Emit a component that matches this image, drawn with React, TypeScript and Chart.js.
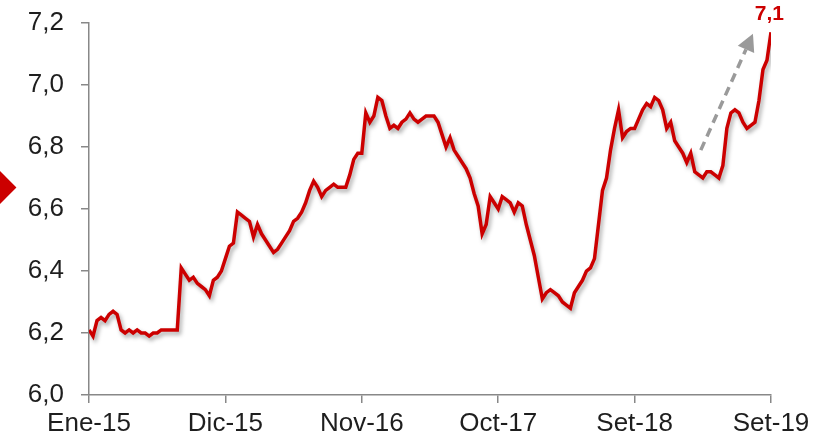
import React, { useEffect, useRef } from "react";
import { Chart, registerables } from "chart.js";

Chart.register(...registerables);

// Tick labels along the x axis (evenly spaced over the period)
const xTickLabels: string[] = ["Ene-15", "Dic-15", "Nov-16", "Oct-17", "Set-18", "Set-19"];

// Weekly exchange-rate series, Jan-2015 .. Sep-2019
const rateValues: number[] = [
  6.21, 6.19, 6.24, 6.25, 6.24, 6.26, 6.27, 6.26, 6.21, 6.20,
  6.21, 6.20, 6.21, 6.20, 6.20, 6.19, 6.20, 6.20, 6.21, 6.21,
  6.21, 6.21, 6.21, 6.41, 6.39, 6.37, 6.38, 6.36, 6.35, 6.34,
  6.32, 6.37, 6.38, 6.40, 6.44, 6.48, 6.49, 6.59, 6.58, 6.57,
  6.56, 6.51, 6.55, 6.52, 6.50, 6.48, 6.46, 6.47, 6.49, 6.51,
  6.53, 6.56, 6.57, 6.59, 6.62, 6.66, 6.69, 6.67, 6.64, 6.66,
  6.67, 6.68, 6.67, 6.67, 6.67, 6.71, 6.76, 6.78, 6.78, 6.91,
  6.88, 6.90, 6.96, 6.95, 6.90, 6.86, 6.87, 6.86, 6.88, 6.89,
  6.91, 6.89, 6.88, 6.89, 6.90, 6.90, 6.90, 6.88, 6.84, 6.80,
  6.83, 6.79, 6.77, 6.75, 6.73, 6.70, 6.65, 6.61, 6.52, 6.55,
  6.64, 6.62, 6.60, 6.64, 6.63, 6.62, 6.59, 6.62, 6.61, 6.55,
  6.50, 6.45, 6.38, 6.31, 6.33, 6.34, 6.33, 6.32, 6.30, 6.29,
  6.28, 6.33, 6.35, 6.37, 6.40, 6.41, 6.44, 6.55, 6.66, 6.70,
  6.79, 6.86, 6.92, 6.83, 6.85, 6.86, 6.86, 6.89, 6.92, 6.94,
  6.93, 6.96, 6.95, 6.92, 6.86, 6.88, 6.82, 6.80, 6.78, 6.75,
  6.78, 6.72, 6.71, 6.70, 6.72, 6.72, 6.71, 6.70, 6.74, 6.86,
  6.91, 6.92, 6.91, 6.88, 6.86, 6.87, 6.88, 6.95, 7.05, 7.08,
  7.17,
];

// Annotation: last value label and trend arrow (data coordinates)
const lastLabel = "7,1";
const lastLabelPos = { x: 169.6, y: 7.228 };
const arrowFrom = { x: 152.5, y: 6.79 };
const arrowTo = { x: 165.5, y: 7.165 };

const Y_MIN = 6.0;
const Y_MAX = 7.2;
const Y_STEP = 0.2;

const LINE_COLOR = "#cc0000";
const AXIS_COLOR = "#888888";
const TEXT_COLOR = "#1e1e1e";
const FONT_FAMILY = "'Liberation Sans', Arial, sans-serif";

export default function App() {
  const canvasRef = useRef<HTMLCanvasElement | null>(null);

  useEffect(() => {
    if (!canvasRef.current) return;
    const n = rateValues.length;
    const points = rateValues.map((v, i) => ({ x: i, y: v }));

    const shadowPlugin = {
      id: "lineShadow",
      beforeDatasetsDraw(chart: any) {
        const ctx = chart.ctx;
        ctx.save();
        ctx.shadowColor = "rgba(0,0,0,0.35)";
        ctx.shadowBlur = 4;
        ctx.shadowOffsetX = 2;
        ctx.shadowOffsetY = 3;
      },
      afterDatasetsDraw(chart: any) {
        chart.ctx.restore();
      },
    };

    const annotationPlugin = {
      id: "annot",
      afterDraw(chart: any) {
        const ctx = chart.ctx;
        const xs = chart.scales.x;
        const ys = chart.scales.y;
        // arrow
        const x1 = xs.getPixelForValue(arrowFrom.x);
        const y1 = ys.getPixelForValue(arrowFrom.y);
        const x2 = xs.getPixelForValue(arrowTo.x);
        const y2 = ys.getPixelForValue(arrowTo.y);
        const ang = Math.atan2(y2 - y1, x2 - x1);
        const headLen = 17;
        const headW = 9;
        const bx = x2 - headLen * Math.cos(ang);
        const by = y2 - headLen * Math.sin(ang);
        ctx.save();
        ctx.strokeStyle = "#9a9a9a";
        ctx.lineWidth = 3.5;
        ctx.setLineDash([9, 6]);
        ctx.beginPath();
        ctx.moveTo(x1, y1);
        ctx.lineTo(bx, by);
        ctx.stroke();
        ctx.setLineDash([]);
        ctx.fillStyle = "#9a9a9a";
        ctx.beginPath();
        ctx.moveTo(x2, y2);
        ctx.lineTo(bx + headW * Math.sin(ang), by - headW * Math.cos(ang));
        ctx.lineTo(bx - headW * Math.sin(ang), by + headW * Math.cos(ang));
        ctx.closePath();
        ctx.fill();
        // last value label
        ctx.fillStyle = LINE_COLOR;
        ctx.font = `bold 21px ${FONT_FAMILY}`;
        ctx.textAlign = "center";
        ctx.textBaseline = "middle";
        ctx.fillText(lastLabel, xs.getPixelForValue(lastLabelPos.x), ys.getPixelForValue(lastLabelPos.y));
        ctx.restore();
      },
    };

    const chart = new Chart(canvasRef.current, {
      type: "line",
      data: {
        datasets: [
          {
            data: points,
            borderColor: LINE_COLOR,
            borderWidth: 3.5,
            pointRadius: 0,
            tension: 0,
            fill: false,
          },
        ],
      },
      options: {
        animation: false,
        responsive: true,
        maintainAspectRatio: false,
        layout: { padding: { left: 0, right: 64, top: 23, bottom: 0 } },
        plugins: { legend: { display: false }, tooltip: { enabled: false }, title: { display: false } },
        scales: {
          x: {
            type: "linear",
            min: 0,
            max: n - 1,
            afterFit: (scale: any) => {
              scale.height = 41;
              scale.paddingLeft = 0;
              scale.paddingRight = 0;
            },
            afterBuildTicks: (scale: any) => {
              const count = xTickLabels.length;
              scale.ticks = xTickLabels.map((_, i) => ({ value: ((n - 1) * i) / (count - 1) }));
            },
            ticks: {
              autoSkip: false,
              maxRotation: 0,
              padding: 5,
              color: TEXT_COLOR,
              font: { family: FONT_FAMILY, size: 26 },
              callback: (_v: any, i: number) => xTickLabels[i],
            },
            grid: {
              drawOnChartArea: false,
              drawTicks: true,
              tickLength: 8,
              color: AXIS_COLOR,
              lineWidth: 1.5,
            },
            border: { color: AXIS_COLOR, width: 1.5 },
          },
          y: {
            min: Y_MIN,
            max: Y_MAX,
            afterFit: (scale: any) => {
              scale.width = 89;
              scale.paddingTop = 0;
              scale.paddingBottom = 0;
            },
            ticks: {
              stepSize: Y_STEP,
              padding: 17,
              color: TEXT_COLOR,
              font: { family: FONT_FAMILY, size: 26 },
              callback: (v: any) => Number(v).toFixed(1).replace(".", ","),
            },
            grid: {
              drawOnChartArea: false,
              drawTicks: true,
              tickLength: 8,
              color: AXIS_COLOR,
              lineWidth: 1.5,
            },
            border: { color: AXIS_COLOR, width: 1.5 },
          },
        },
      },
      plugins: [shadowPlugin, annotationPlugin],
    });
    return () => chart.destroy();
  }, []);

  return (
    <div style={{ position: "absolute", left: 0, top: 0, width: 835, height: 436, overflow: "hidden", background: "#fff" }}>
      <div
        style={{
          position: "absolute",
          left: -21,
          top: 172,
          width: 31,
          height: 31,
          background: LINE_COLOR,
          transform: "rotate(45deg)",
        }}
      />
      <canvas ref={canvasRef} />
    </div>
  );
}
